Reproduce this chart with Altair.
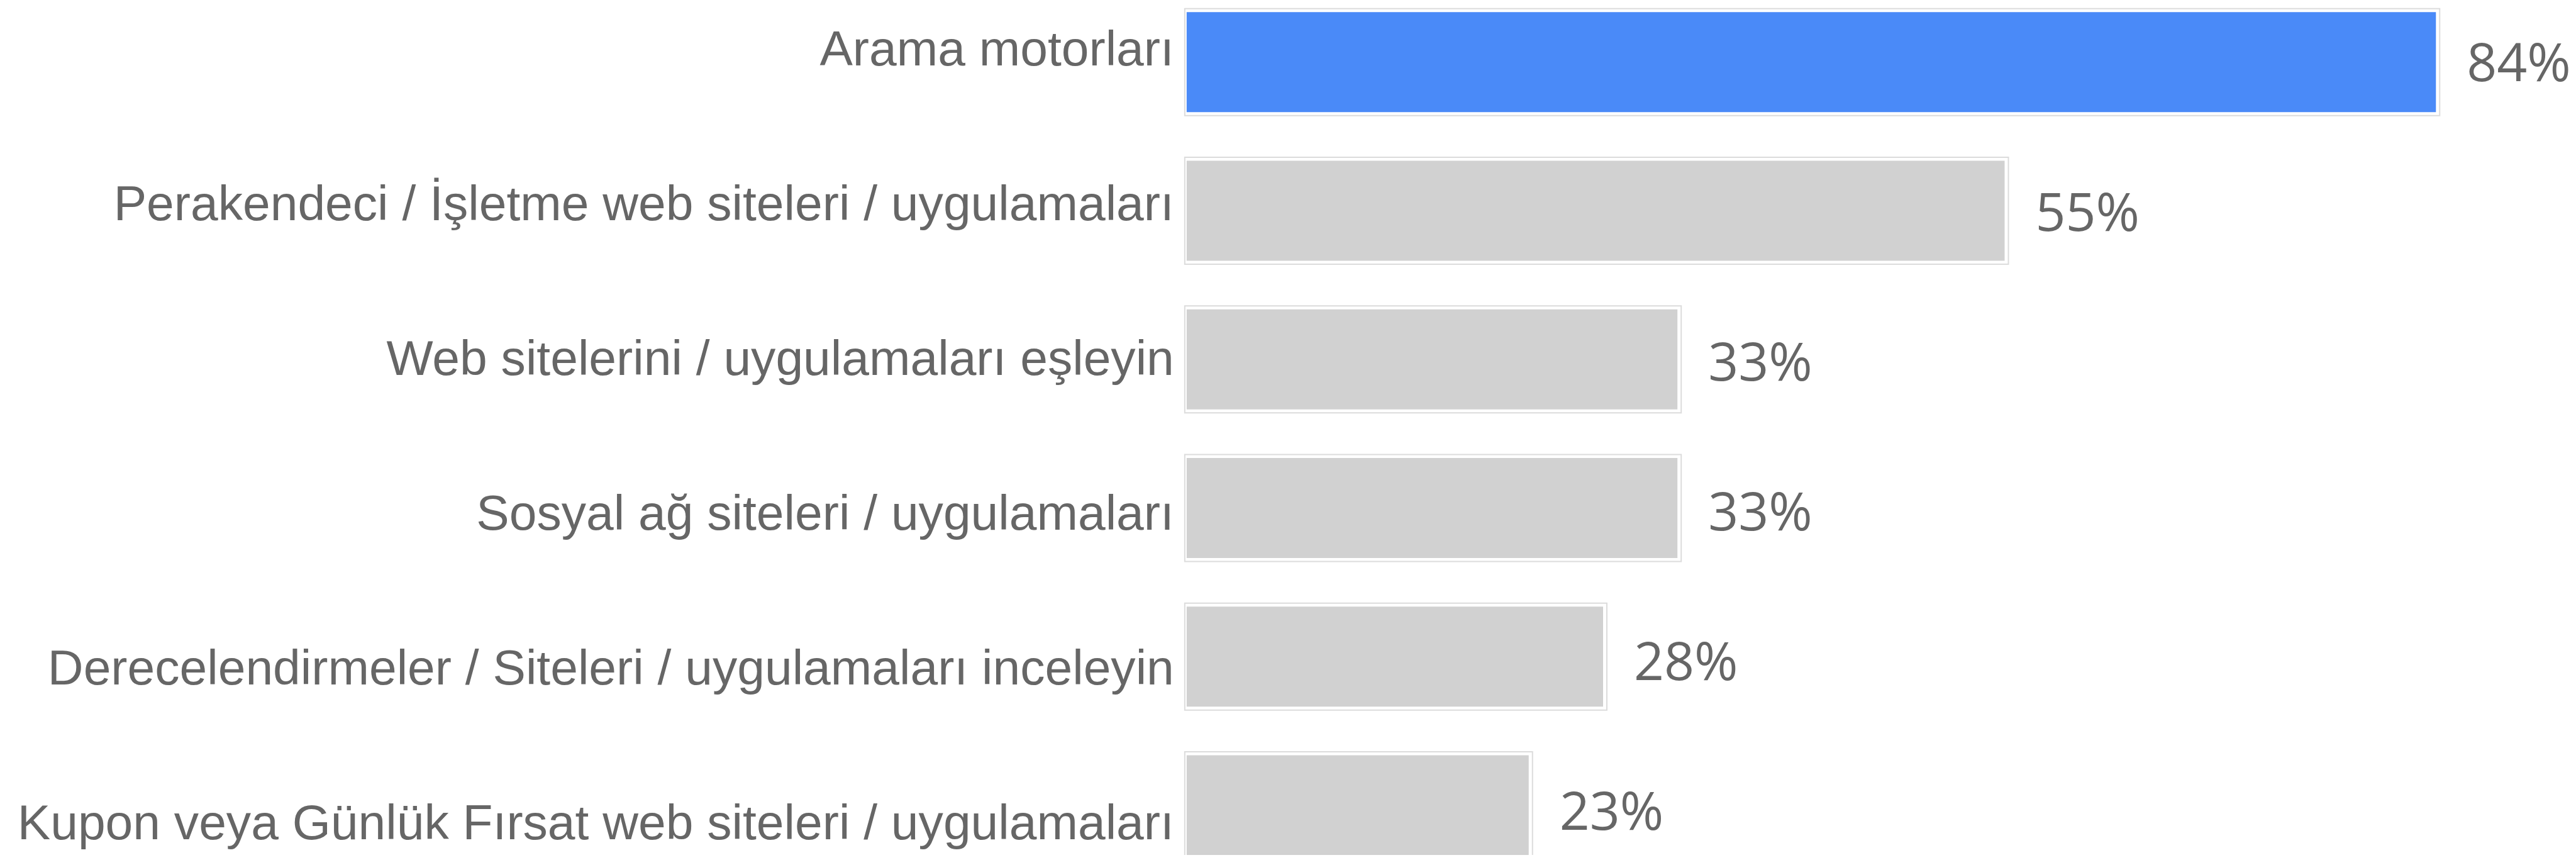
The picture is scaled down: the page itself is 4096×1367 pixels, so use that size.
import altair as alt
import pandas as pd

categories = [
    "Arama motorları",
    "Perakendeci / İşletme web siteleri / uygulamaları",
    "Web sitelerini / uygulamaları eşleyin",
    "Sosyal ağ siteleri / uygulamaları",
    "Derecelendirmeler / Siteleri / uygulamaları inceleyin",
    "Kupon veya Günlük Fırsat web siteleri / uygulamaları",
]
values = [84, 55, 33, 33, 28, 23]
value_labels = ["84%", "55%", "33%", "33%", "28%", "23%"]

df = pd.DataFrame({
    "idx": list(range(len(categories))),
    "category": categories,
    "value": values,
    "label": value_labels,
})

W, H = 4080, 1351
BLUE = "#4a8af8"
GRAY = "#d1d1d1"
TXT = "#666666"

xscale = alt.Scale(domain=[-79.45, 93.08], nice=False, zero=False)
ybar = alt.Scale(domain=[-0.363, 5.3135], reverse=True, nice=False, zero=False)
ylab = alt.Scale(domain=[-0.3898, 5.1021], reverse=True, nice=False, zero=False)

base = alt.Chart(df)

outer = base.mark_bar(
    size=170, fill="white", stroke="#dcdcdc", strokeWidth=2,
    xOffset=6, x2Offset=-3, clip=True,
).encode(
    x=alt.X("value:Q", scale=xscale, axis=None),
    x2=alt.datum(0),
    y=alt.Y("idx:Q", scale=ybar, axis=None),
)

fill = base.mark_bar(size=159, clip=True).encode(
    x=alt.X("value:Q", scale=xscale, axis=None),
    x2=alt.datum(0),
    y=alt.Y("idx:Q", scale=ybar, axis=None),
    color=alt.condition("datum.idx == 0", alt.value(BLUE), alt.value(GRAY)),
)

pct = base.mark_text(
    align="left", baseline="alphabetic", dx=49, dy=35,
    font="Open Sans", fontSize=84, color=TXT,
).encode(
    x=alt.X("value:Q", scale=xscale, axis=None),
    y=alt.Y("idx:Q", scale=ybar, axis=None),
    text="label:N",
)

cats = base.mark_text(
    align="right", baseline="alphabetic", dx=-20,
    font="Liberation Sans", fontSize=78.6, color=TXT,
).encode(
    x=alt.datum(0),
    y=alt.Y("idx:Q", scale=ylab, axis=None),
    text="category:N",
)

chart = alt.layer(outer, fill, pct, cats).resolve_scale(y="independent").properties(
    width=W, height=H, padding=0, autosize="none",
).configure_view(stroke=None)

chart.save("out.html", embed_options={"renderer": "svg", "actions": False})
